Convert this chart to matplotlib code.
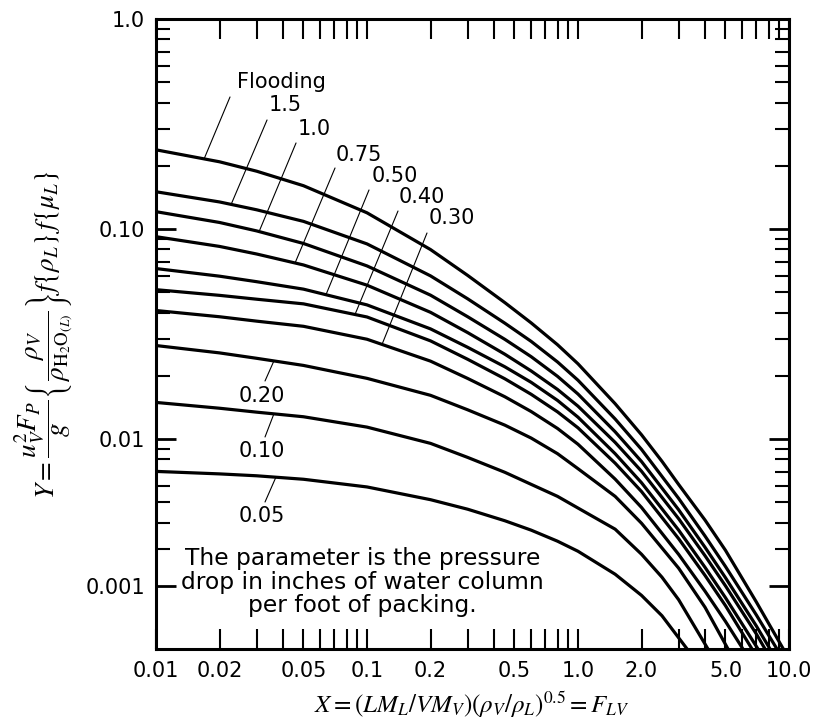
import numpy as np
import matplotlib.pyplot as plt
from matplotlib.ticker import FixedLocator, FixedFormatter, NullFormatter

plt.rcParams['font.family'] = ['DejaVu Sans']
plt.rcParams['mathtext.fontset'] = 'stix'

# curves: X (flow parameter) and Y (capacity parameter)
x_flooding = [0.01, 0.02, 0.03, 0.05, 0.1, 0.2, 0.3, 0.45, 0.6, 0.8, 1.0, 1.5, 2.0, 2.5, 3.0, 4.0, 5.0, 7.0, 9.4]
y_flooding = [0.2382, 0.2089, 0.1884, 0.1607, 0.1194, 0.0798, 0.0601, 0.0446, 0.0357, 0.0281, 0.0228,
              0.01472, 0.01047, 0.00783, 0.00607, 0.00411, 0.00295, 0.001675, 0.001]

x_dp150 = [0.01, 0.02, 0.03, 0.05, 0.1, 0.2, 0.3, 0.45, 0.6, 0.8, 1.0, 1.5, 2.0, 3.0, 4.0, 5.0, 7.0, 8.77]
y_dp150 = [0.1504, 0.1345, 0.1234, 0.1087, 0.0849, 0.0598, 0.0465, 0.0356, 0.02915, 0.02326, 0.01904,
           0.01245, 0.00892, 0.00521, 0.00345, 0.00247, 0.001453, 0.001]

x_dp100 = [0.01, 0.02, 0.03, 0.05, 0.1, 0.2, 0.3, 0.45, 0.6, 0.8, 1.0, 1.5, 2.0, 3.0, 4.0, 5.0, 7.0, 8.13]
y_dp100 = [0.1209, 0.1074, 0.0979, 0.0853, 0.0667, 0.0484, 0.0382, 0.02982, 0.02465, 0.01987, 0.01637,
           0.01082, 0.00781, 0.0046, 0.00305, 0.002185, 0.001288, 0.001]

x_dp075 = [0.01, 0.02, 0.03, 0.05, 0.1, 0.2, 0.3, 0.45, 0.6, 0.8, 1.0, 1.5, 2.0, 3.0, 4.0, 5.0, 7.0, 7.70]
y_dp075 = [0.0919, 0.0826, 0.0760, 0.0674, 0.0540, 0.0401, 0.0321, 0.02533, 0.02108, 0.01721, 0.01433,
           0.00963, 0.00702, 0.00417, 0.00278, 0.001998, 0.00118, 0.001]

x_dp050 = [0.01, 0.02, 0.03, 0.05, 0.1, 0.2, 0.3, 0.45, 0.6, 0.8, 1.0, 1.5, 2.0, 3.0, 4.0, 5.0, 7.13]
y_dp050 = [0.0648, 0.0596, 0.0561, 0.0517, 0.0435, 0.03344, 0.02732, 0.02207, 0.01861, 0.01526, 0.0127,
           0.00851, 0.00619, 0.00368, 0.002448, 0.001755, 0.001]

x_dp040 = [0.01, 0.02, 0.03, 0.05, 0.1, 0.2, 0.3, 0.45, 0.6, 0.8, 1.0, 1.5, 2.0, 3.0, 4.0, 5.0, 6.68]
y_dp040 = [0.0514, 0.0483, 0.0463, 0.0440, 0.0381, 0.02932, 0.02396, 0.01935, 0.01632, 0.01346, 0.0113,
           0.00767, 0.00562, 0.00335, 0.00224, 0.001608, 0.001]

x_dp030 = [0.01, 0.02, 0.03, 0.05, 0.1, 0.2, 0.3, 0.45, 0.6, 0.8, 1.0, 1.5, 2.0, 3.0, 4.0, 5.0, 6.05]
y_dp030 = [0.0409, 0.0382, 0.0364, 0.0344, 0.02985, 0.02348, 0.01942, 0.01589, 0.01351, 0.01122, 0.00944,
           0.00644, 0.00472, 0.00282, 0.001885, 0.001353, 0.001]

x_dp020 = [0.01, 0.02, 0.03, 0.05, 0.1, 0.2, 0.3, 0.45, 0.6, 0.8, 1.0, 1.5, 2.0, 3.0, 4.0, 5.14]
y_dp020 = [0.02786, 0.0257, 0.02422, 0.0224, 0.01944, 0.01614, 0.01377, 0.01164, 0.0101, 0.00851, 0.00722,
           0.00533, 0.00397, 0.002425, 0.00158, 0.001]

x_dp010 = [0.01, 0.02, 0.03, 0.05, 0.1, 0.2, 0.3, 0.45, 0.6, 0.8, 1.0, 1.5, 2.0, 2.5, 3.0, 4.13]
y_dp010 = [0.01493, 0.01401, 0.01342, 0.01276, 0.01139, 0.00953, 0.00817, 0.00694, 0.00608, 0.00533, 0.00469,
           0.00372, 0.002826, 0.002197, 0.001716, 0.001]

x_dp005 = [0.01, 0.02, 0.03, 0.05, 0.1, 0.2, 0.3, 0.45, 0.6, 0.8, 1.0, 1.5, 2.0, 2.5, 3.29]
y_dp005 = [0.00701, 0.00682, 0.00668, 0.00643, 0.00591, 0.00514, 0.00463, 0.00408, 0.00368, 0.00326, 0.00292,
           0.00227, 0.0018, 0.00144, 0.001]

curve_labels = ['Flooding', '1.5', '1.0', '0.75', '0.50', '0.40', '0.30', '0.20', '0.10', '0.05']
curves = [(x_flooding, y_flooding), (x_dp150, y_dp150), (x_dp100, y_dp100),
          (x_dp075, y_dp075), (x_dp050, y_dp050), (x_dp040, y_dp040),
          (x_dp030, y_dp030), (x_dp020, y_dp020), (x_dp010, y_dp010),
          (x_dp005, y_dp005)]

# where each leader touches its curve (X), text centre and leader top (axes fraction)
leader_x = [0.0169, 0.0227, 0.0308, 0.0456, 0.0639, 0.0877, 0.1178, 0.0362, 0.0362, 0.037]
label_pos = [(0.1975, 0.900), (0.2038, 0.8635), (0.2496, 0.8254), (0.3207, 0.7841),
             (0.3776, 0.7508), (0.4202, 0.7175), (0.4676, 0.6841),
             (0.1675, 0.4016), (0.1675, 0.3143), (0.1675, 0.2111)]
leader_end = [(0.1169, 0.8762), (0.1754, 0.8397), (0.2212, 0.8032), (0.2828, 0.7635),
              (0.3365, 0.7286), (0.3823, 0.6952), (0.4281, 0.6603),
              (0.1722, 0.4254), (0.1722, 0.3365), (0.1722, 0.2333)]

x_tick_vals = [0.01, 0.02, 0.05, 0.1, 0.2, 0.5, 1.0, 2.0, 5.0, 10.0]
x_tick_text = ['0.01', '0.02', '0.05', '0.1', '0.2', '0.5', '1.0', '2.0', '5.0', '10.0']
y_tick_vals = [0.002, 0.01, 0.1, 1.0]
y_tick_text = ['0.001', '0.01', '0.10', '1.0']

fig = plt.figure(figsize=(8.16, 7.27), dpi=100)
ax = fig.add_axes([0.1912, 0.1073, 0.7757, 0.8666])
ax.set_xscale('log')
ax.set_yscale('log')
ax.set_xlim(0.01, 10)
ax.set_ylim(0.001, 1.0)

for xs, ys in curves:
    ax.plot(xs, ys, color='black', lw=2.3, solid_capstyle='butt', solid_joinstyle='round')

for (xs, ys), lab, lx, tp, le in zip(curves, curve_labels, leader_x, label_pos, leader_end):
    ly = 10 ** np.interp(np.log10(lx), np.log10(xs), np.log10(ys))
    ax.annotate('', xy=(lx, ly), xycoords='data', xytext=le, textcoords='axes fraction',
                arrowprops=dict(arrowstyle='-', lw=0.8, color='black', shrinkA=0, shrinkB=0))
    ax.text(tp[0], tp[1], lab, transform=ax.transAxes, ha='center', va='center', fontsize=15)

ax.text(0.3266, 0.1063, 'The parameter is the pressure\ndrop in inches of water column\nper foot of packing.',
        transform=ax.transAxes, ha='center', va='center', fontsize=16.8, linespacing=1.03)

# ticks: every decade step on X, labels only on some
x_all = [k * 10.0 ** e for e in (-2, -1, 0) for k in range(1, 10)] + [10.0]
x_all_text = []
for v in x_all:
    hit = [s for t, s in zip(x_tick_vals, x_tick_text) if abs(v - t) < 1e-9]
    x_all_text.append(hit[0] if hit else '')
ax.xaxis.set_major_locator(FixedLocator(x_all))
ax.xaxis.set_major_formatter(FixedFormatter(x_all_text))
ax.xaxis.set_minor_locator(FixedLocator([]))
ax.xaxis.set_minor_formatter(NullFormatter())

y_minor = [k * 10.0 ** e for e in (-3, -2, -1) for k in range(2, 10)]
y_minor = [v for v in y_minor if abs(v - 0.002) > 1e-9]
ax.yaxis.set_major_locator(FixedLocator(y_tick_vals))
ax.yaxis.set_major_formatter(FixedFormatter(y_tick_text))
ax.yaxis.set_minor_locator(FixedLocator(y_minor))
ax.yaxis.set_minor_formatter(NullFormatter())

ax.tick_params(axis='x', which='major', direction='in', length=14.4, width=1.5,
               top=True, bottom=True, labelsize=15, pad=9)
ax.tick_params(axis='y', which='major', direction='in', length=14.4, width=2,
               left=True, right=True, labelsize=15, pad=8)
ax.tick_params(axis='y', which='minor', direction='in', length=10, width=1.5,
               left=True, right=True)
for sp in ax.spines.values():
    sp.set_linewidth(2.2)

fig.text(472 / 816, 1 - 705 / 727, r'$X = (LM_L/VM_V)(\rho_V/\rho_L)^{0.5} = F_{LV}$',
         ha='center', va='center', fontsize=18)
fig.text(44 / 816, 1 - 335 / 727,
         r'$Y = \dfrac{u_V^2 F_P}{g}\left\{\dfrac{\rho_V}{\rho_{\mathrm{H_2O}_{(L)}}}\right\} f\{\rho_L\}\, f\{\mu_L\}$',
         ha='center', va='center', rotation=90, fontsize=19.5)

fig.savefig('out.png', dpi=100)
